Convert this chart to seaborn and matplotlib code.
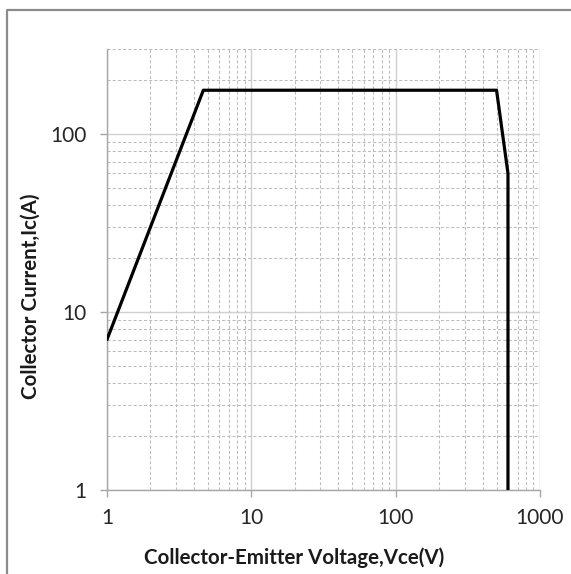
import matplotlib
matplotlib.use("Agg")
import matplotlib.pyplot as plt
from matplotlib.lines import Line2D
from matplotlib.ticker import LogLocator, FixedLocator, NullFormatter
import seaborn as sns
import pandas as pd

# Safe operating area boundary (Vce in V, Ic in A)
vce = [1, 4.65, 500, 600, 600]
ic = [7, 176, 176, 60, 1]
x_ticks = [1, 10, 100, 1000]
x_tick_labels = ["1", "10", "100", "1000"]
y_ticks = [1, 10, 100]
y_tick_labels = ["1", "10", "100"]
x_label = "Collector-Emitter Voltage,Vce(V)"
y_label = "Collector Current,Ic(A)"

sns.set_style("white")
plt.rcParams["font.family"] = ["Lato", "DejaVu Sans"]

fig = plt.figure(figsize=(5.71, 5.74), dpi=100)
ax = fig.add_axes([107 / 571, 1 - 490 / 574, 433 / 571, 441 / 574])

df = pd.DataFrame({"Vce": vce, "Ic": ic})
sns.lineplot(data=df, x="Vce", y="Ic", sort=False, estimator=None,
             color="black", linewidth=2.3, ax=ax, zorder=5)

ax.set_xscale("log")
ax.set_yscale("log")
ax.set_xlim(1, 1000)
ax.set_ylim(1, 300)

ax.xaxis.set_major_locator(FixedLocator(x_ticks))
ax.set_xticklabels(x_tick_labels)
ax.yaxis.set_major_locator(FixedLocator(y_ticks))
ax.set_yticklabels(y_tick_labels)
ax.xaxis.set_minor_locator(LogLocator(base=10, subs=range(2, 10)))
ax.yaxis.set_minor_locator(LogLocator(base=10, subs=range(2, 10)))
ax.xaxis.set_minor_formatter(NullFormatter())
ax.yaxis.set_minor_formatter(NullFormatter())

# gridlines: solid major, dashed minor
ax.grid(True, which="major", color="#d0d0d0", linewidth=1.0, linestyle="-")
ax.grid(True, which="minor", color="#bdbdbd", linewidth=0.75, linestyle=(0, (3, 2)))
ax.set_axisbelow(True)

for side in ("top", "right"):
    ax.spines[side].set_visible(False)
for side in ("left", "bottom"):
    ax.spines[side].set_color("#a6a6a6")
    ax.spines[side].set_linewidth(1.0)

ax.tick_params(axis="both", which="major", direction="out", length=5, width=1.0,
               color="#a6a6a6", labelsize=15, labelcolor="#262626",
               bottom=True, left=True)
ax.tick_params(axis="x", which="major", pad=8)
ax.tick_params(axis="y", which="major", pad=10)
ax.tick_params(axis="both", which="minor", length=0)

ax.set_xlabel(x_label, fontsize=14.8, fontweight="bold", color="#1a1a1a")
ax.set_ylabel(y_label, fontsize=14.8, fontweight="bold", color="#1a1a1a")
ax.xaxis.set_label_coords(0.433, -0.131)
ax.yaxis.set_label_coords(-0.153, 0.439)

# chart area frame (top and left edges)
frame_x = 7 / 571
frame_y = 1 - 9.5 / 574
fig.add_artist(Line2D([frame_x, frame_x, 1.0], [0.0, frame_y, frame_y],
                      transform=fig.transFigure, color="#8c8c8c", linewidth=1.6))

fig.savefig("out.png", dpi=100)
